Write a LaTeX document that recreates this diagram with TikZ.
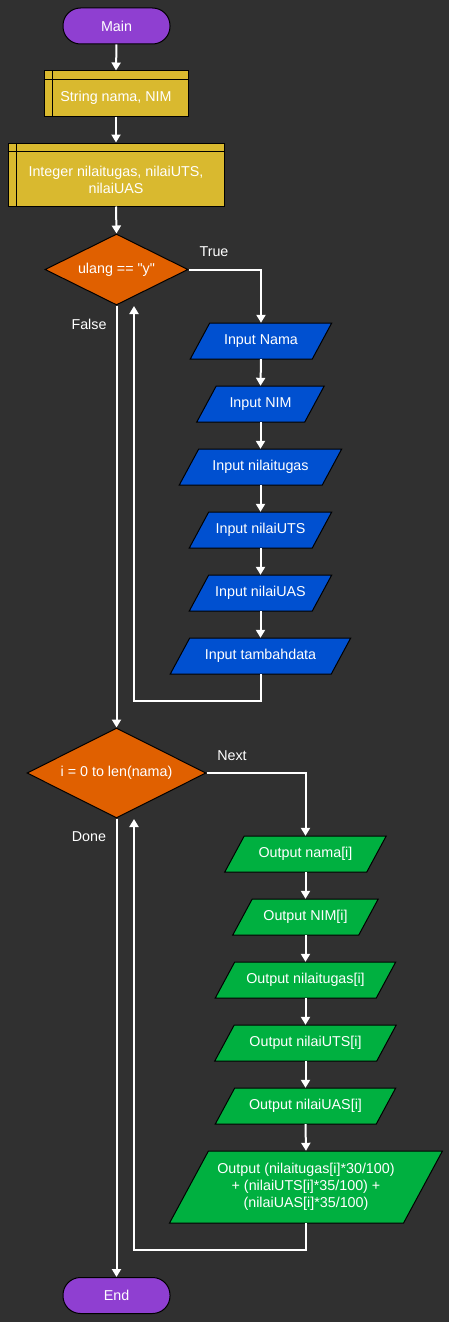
\documentclass[tikz,border=0pt]{standalone}
\usepackage{fontspec}
\setmainfont{Liberation Sans}
\usetikzlibrary{shapes.geometric,arrows.meta}
\definecolor{bg}{HTML}{303030}
\definecolor{cpurple}{HTML}{8F3FD1}
\definecolor{cyellow}{HTML}{D9B92F}
\definecolor{corange}{HTML}{E06000}
\definecolor{cblue}{HTML}{0050D0}
\definecolor{cgreen}{HTML}{00B040}
\newcommand{\iobox}[7]{%
  \filldraw[fill=#6,draw=black,line width=1pt]
    ({#2-#4/2-0.27*#5},{#3+#5/2}) -- ({#2+#4/2-0.27*#5},{#3+#5/2}) --
    ({#2+#4/2+0.27*#5},{#3-#5/2}) -- ({#2-#4/2+0.27*#5},{#3-#5/2}) -- cycle;
  \node[txt,minimum width=#4,minimum height=#5] (#1) at (#2,#3) {#7};}
\tikzset{
  txt/.style={font=\fontsize{14.3}{17}\selectfont,text=white,inner sep=0pt,align=center},
  term/.style={txt,draw=black,line width=1pt,fill=cpurple,rounded corners=17.5pt,minimum width=107pt,minimum height=36pt},
  decl/.style={txt,draw=black,line width=1pt,fill=cyellow},
  dec/.style={txt,shape=diamond,aspect=2,draw=black,line width=1pt,fill=corange},
  arr/.style={draw=white,line width=2pt,-{Triangle[width=9pt,length=8pt]}},
  lbl/.style={font=\fontsize{14.3}{17}\selectfont,text=white,inner sep=0pt},
}
\begin{document}
\begin{tikzpicture}[x=1pt,y=-1pt]
\fill[bg] (0,0) rectangle (449,1322);
\useasboundingbox (0,0) rectangle (449,1322);

\node[term] (main) at (116.5,26) {Main};
\node[decl,minimum width=144pt,minimum height=45pt,
  label={[txt,yshift=-4.5pt,name=strtxt]center:String nama, NIM}] (str) at (116,93.5) {};
\draw[line width=1pt] ([yshift=-9pt]str.north west) -- ([yshift=-9pt]str.north east);
\draw[line width=1pt] ([xshift=9pt]str.north west) -- ([xshift=9pt]str.south west);
\node[decl,minimum width=216pt,minimum height=63pt,
  label={[txt,yshift=-5pt,name=inttxt]center:Integer nilaitugas, nilaiUTS,\\ nilaiUAS}] (int) at (116,174.5) {};
\draw[line width=1pt] ([yshift=-9pt]int.north west) -- ([yshift=-9pt]int.north east);
\draw[line width=1pt] ([xshift=9pt]int.north west) -- ([xshift=9pt]int.south west);

\node[dec,minimum width=143pt,minimum height=71pt] (d1) at (116.5,269.5) {ulang == \textquotedbl y\textquotedbl};

\iobox{inama}{261}{341}{122}{36}{cblue}{Input Nama}
\iobox{inim}{260.5}{404}{108}{36}{cblue}{Input NIM}
\iobox{itugas}{260.5}{467}{143}{36}{cblue}{Input nilaitugas}
\iobox{iuts}{260.5}{530}{123}{36}{cblue}{Input nilaiUTS}
\iobox{iuas}{260.5}{593}{123}{36}{cblue}{Input nilaiUAS}
\iobox{itambah}{260.5}{656}{161}{36}{cblue}{Input tambahdata}

\node[dec,minimum width=179pt,minimum height=90pt] (d2) at (116.5,773) {i = 0 to len(nama)};

\iobox{onama}{305.5}{854}{142}{36}{cgreen}{Output nama[i]}
\iobox{onim}{305.5}{917}{126}{36}{cgreen}{Output NIM[i]}
\iobox{otugas}{305.5}{980}{161}{36}{cgreen}{Output nilaitugas[i]}
\iobox{outs}{305.5}{1043}{162}{36}{cgreen}{Output nilaiUTS[i]}
\iobox{ouas}{305.5}{1106}{161}{36}{cgreen}{Output nilaiUAS[i]}
\iobox{obig}{306}{1187}{234}{72}{cgreen}{Output (nilaitugas[i]*30/100)\\+ (nilaiUTS[i]*35/100) +\\(nilaiUAS[i]*35/100)}

\node[term] (end) at (116.5,1295.5) {End};

\coordinate (l1corner) at (134,701);
\coordinate (l1end) at (134,306);
\coordinate (l2corner) at (134,1249.5);
\coordinate (l2end) at (134,819);

\draw[arr] (main.south) -- (str.north);
\draw[arr] (str.south) -- (int.north);
\draw[arr] (int.south) -- (d1.north);
\draw[arr] (d1.east) -| (inama.north);
\draw[arr] (inama.south) -- (inim.north);
\draw[arr] (inim.south) -- (itugas.north);
\draw[arr] (itugas.south) -- (iuts.north);
\draw[arr] (iuts.south) -- (iuas.north);
\draw[arr] (iuas.south) -- (itambah.north);
\draw[arr] (itambah.south) |- (l1corner) -- (l1end);
\draw[arr] (d1.south) -- (d2.north);
\draw[arr] (d2.east) -| (onama.north);
\draw[arr] (onama.south) -- (onim.north);
\draw[arr] (onim.south) -- (otugas.north);
\draw[arr] (otugas.south) -- (outs.north);
\draw[arr] (outs.south) -- (ouas.north);
\draw[arr] (ouas.south) -- (obig.north);
\draw[arr] (obig.south) |- (l2corner) -- (l2end);
\draw[arr] (d2.south) -- (end.north);

\node[lbl] (ltrue) at (214,251.5) {True};
\node[lbl] (lfalse) at (89,324) {False};
\node[lbl] (lnext) at (232,756) {Next};
\node[lbl] (ldone) at (89,837) {Done};
\end{tikzpicture}
\end{document}
